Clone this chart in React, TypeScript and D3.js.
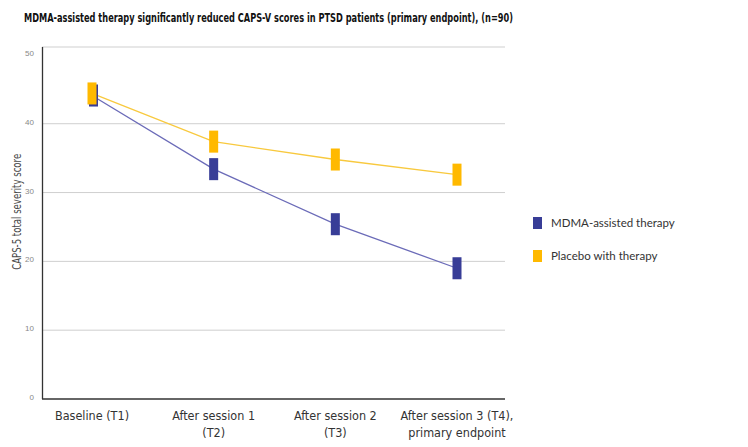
import React, { useRef, useEffect } from "react";
import * as d3 from "d3";

// Chart data
const timepoints = ["Baseline (T1)", "After session 1 (T2)", "After session 2 (T3)", "After session 3 (T4), primary endpoint"];
const tickLines = [["Baseline (T1)"], ["After session 1", "(T2)"], ["After session 2", "(T3)"], ["After session 3 (T4),", "primary endpoint"]];
const mdmaScores = [44.1, 33.4, 25.4, 19.0];
const placeboScores = [44.4, 37.4, 34.8, 32.6];
const errorRange = [1.6, 1.6, 1.6, 1.6];
const seriesNames = ["MDMA-assisted therapy", "Placebo with therapy"];
const yTicks = [0, 10, 20, 30, 40, 50];

const App: React.FC = () => {
  const chartRef = useRef<SVGSVGElement | null>(null);

  useEffect(() => {
    if (!chartRef.current) return;
    const svg = d3.select(chartRef.current);
    svg.selectAll("*").remove();

    const width = 748;
    const height = 447;
    const margin = { top: 47, left: 42, right: 245, bottom: 48 };

    const x = d3
      .scalePoint<string>()
      .domain(timepoints)
      .range([92, 457]);
    const y = d3
      .scaleLinear()
      .domain([0, 51.15])
      .range([height - margin.bottom, margin.top]);

    const blueRect = "#383d97";
    const blueLine = "#6b6bb8";
    const yellowRect = "#ffb900";
    const yellowLine = "#f8c93e";

    // Title
    svg
      .append("text")
      .attr("x", 24)
      .attr("y", 22)
      .attr("font-family", "'DejaVu Sans Condensed', 'DejaVu Sans', sans-serif")
      .attr("font-weight", "bold")
      .attr("font-size", 12.5)
      .attr("fill", "#111")
      .attr("textLength", 489)
      .attr("lengthAdjust", "spacingAndGlyphs")
      .text("MDMA-assisted therapy significantly reduced CAPS-V scores in PTSD patients (primary endpoint), (n=90)");

    // Grid
    const right = width - margin.right + 2;
    svg
      .append("g")
      .selectAll("line")
      .data(yTicks.filter((d) => d > 0 && d < 50))
      .join("line")
      .attr("x1", margin.left)
      .attr("x2", right)
      .attr("y1", (d) => y(d))
      .attr("y2", (d) => y(d))
      .attr("stroke", "#cfcfcf")
      .attr("stroke-width", 1);
    svg
      .append("line")
      .attr("x1", margin.left)
      .attr("x2", right)
      .attr("y1", y.range()[1])
      .attr("y2", y.range()[1])
      .attr("stroke", "#cfcfcf")
      .attr("stroke-width", 1.2);

    // Axes lines
    svg
      .append("line")
      .attr("x1", margin.left + 0.5)
      .attr("x2", margin.left + 0.5)
      .attr("y1", y.range()[1])
      .attr("y2", y(0))
      .attr("stroke", "#333")
      .attr("stroke-width", 1.3);
    svg
      .append("line")
      .attr("x1", margin.left)
      .attr("x2", right)
      .attr("y1", y(0))
      .attr("y2", y(0))
      .attr("stroke", "#333")
      .attr("stroke-width", 1.3);

    // Y tick labels
    svg
      .append("g")
      .selectAll("text")
      .data(yTicks)
      .join("text")
      .attr("x", 34)
      .attr("y", (d) => y(d) - 1)
      .attr("text-anchor", "end")
      .attr("dominant-baseline", "middle")
      .attr("font-family", "'Liberation Sans', sans-serif")
      .attr("font-size", 8)
      .attr("fill", "#888")
      .text((d) => d);

    // Y axis title
    svg
      .append("text")
      .attr("transform", `translate(21, ${y(27.2)}) rotate(-90)`)
      .attr("text-anchor", "middle")
      .attr("font-family", "'DejaVu Sans Condensed', sans-serif")
      .attr("font-size", 12)
      .attr("fill", "#4a4a4a")
      .attr("textLength", 116)
      .attr("lengthAdjust", "spacingAndGlyphs")
      .text("CAPS-5 total severity score");

    // X tick labels
    const xl = svg
      .append("g")
      .selectAll("text")
      .data(timepoints)
      .join("text")
      .attr("x", (d) => x(d)!)
      .attr("y", 420)
      .attr("text-anchor", "middle")
      .attr("font-family", "'DejaVu Sans Condensed', sans-serif")
      .attr("font-size", 12.5)
      .attr("fill", "#333");
    xl.each(function (d, i) {
      tickLines[i].forEach((t, j) => {
        d3.select(this)
          .append("tspan")
          .attr("x", x(d)!)
          .attr("dy", j === 0 ? 0 : 17)
          .text(t);
      });
    });

    // Lines
    const series = [
      { name: seriesNames[0], values: mdmaScores, rect: blueRect, line: blueLine, dx: 1.5 },
      { name: seriesNames[1], values: placeboScores, rect: yellowRect, line: yellowLine, dx: 0 },
    ];
    const line = d3
      .line<number>()
      .x((_, i) => x(timepoints[i])!)
      .y((d) => y(d));

    series.forEach((s) => {
      svg
        .append("path")
        .attr("d", line(s.values)!)
        .attr("fill", "none")
        .attr("stroke", s.line)
        .attr("stroke-width", 1.3);
    });

    // Range markers
    const w = 9;
    series.forEach((s) => {
      svg
        .append("g")
        .selectAll("rect")
        .data(s.values)
        .join("rect")
        .attr("x", (_, i) => x(timepoints[i])! - w / 2 + (i === 0 ? s.dx : 0))
        .attr("y", (d, i) => y(d + errorRange[i]))
        .attr("width", w)
        .attr("height", (d, i) => y(d - errorRange[i]) - y(d + errorRange[i]))
        .attr("fill", s.rect);
    });

    // Legend
    const legend = svg.append("g").attr("transform", "translate(533, 217)");
    series.forEach((s, i) => {
      legend
        .append("rect")
        .attr("x", 0)
        .attr("y", i * 33)
        .attr("width", 9)
        .attr("height", 12)
        .attr("fill", s.rect);
      legend
        .append("text")
        .attr("x", 18)
        .attr("y", i * 33 + 10)
        .attr("font-family", "Lato, 'Open Sans', sans-serif")
        .attr("font-size", 11.5)
        .attr("fill", "#333")
        .text(s.name);
    });
  }, []);

  return (
    <svg
      ref={chartRef}
      width={748}
      height={447}
      style={{ position: "absolute", left: 0, top: 0, background: "#fff" }}
    />
  );
};

export default App;
